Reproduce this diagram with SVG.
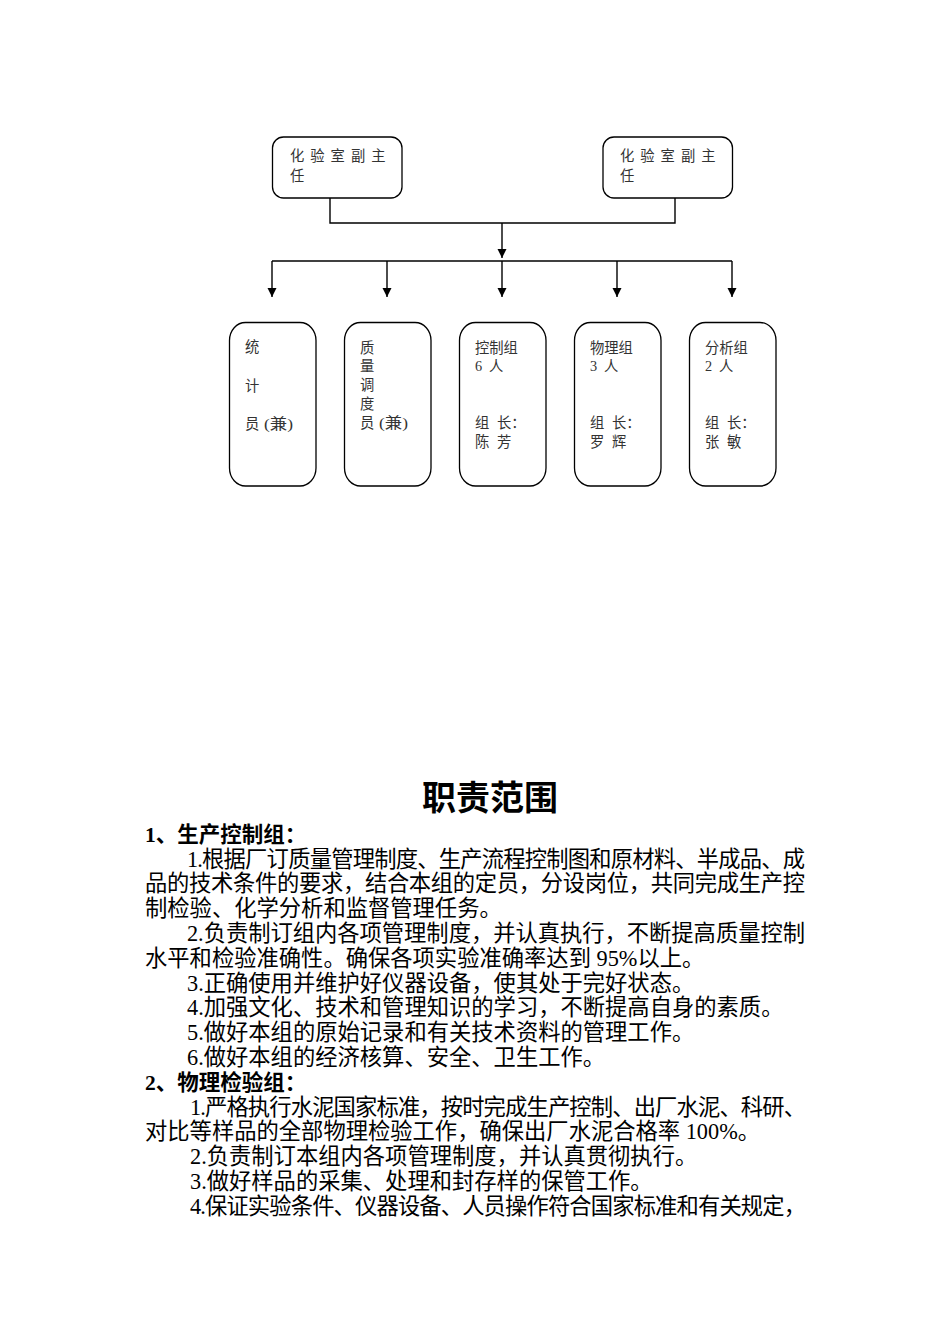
<svg xmlns="http://www.w3.org/2000/svg" width="950" height="1344" viewBox="0 0 950 1344">
<style>
.box{fill:#fff;stroke:#000;stroke-width:1.3}
.ln{fill:none;stroke:#000;stroke-width:1.4}
.ct{font-family:"Liberation Serif","Noto Sans CJK SC",serif;font-size:14.3px;fill:#333}
.tt{font-family:"Liberation Sans","Noto Sans CJK SC",sans-serif;font-size:14.3px;fill:#333;letter-spacing:6px}
.bd{font-family:"Liberation Serif","Noto Sans CJK SC",serif;font-size:22.3px;fill:#000}
.hd{font-family:"Liberation Serif","Noto Sans CJK SC",serif;font-size:21.5px;font-weight:bold;fill:#000}
.ti{font-family:"Noto Sans CJK SC",sans-serif;font-size:34px;font-weight:bold;fill:#000}
</style>
<defs>
<marker id="arr" markerUnits="userSpaceOnUse" markerWidth="10" markerHeight="10" viewBox="0 0 10 10" refX="10" refY="5" orient="auto">
<path d="M1 0.5 L10 5 L1 9.5 Z" fill="#000"/>
</marker>
</defs>
<rect width="950" height="1344" fill="#fff"/>

<g id="connectors">
<path class="ln" d="M330 198 V223 H675 V198"/>
<path class="ln" d="M502 223 V258" marker-end="url(#arr)"/>
<path class="ln" d="M272 261 H732"/>
<path class="ln" d="M272 261 V297" marker-end="url(#arr)"/>
<path class="ln" d="M387 261 V297" marker-end="url(#arr)"/>
<path class="ln" d="M502 261 V297" marker-end="url(#arr)"/>
<path class="ln" d="M617 261 V297" marker-end="url(#arr)"/>
<path class="ln" d="M732 261 V297" marker-end="url(#arr)"/>
</g>

<g id="vice1">
<rect class="box" x="272.5" y="137" width="129.5" height="61" rx="11" ry="11"/>
<text class="tt" x="290" y="161">化验室副主</text>
<text class="tt" x="290" y="181">任</text>
</g>
<g id="vice2">
<rect class="box" x="603" y="137" width="129.5" height="61" rx="11" ry="11"/>
<text class="tt" x="620" y="161">化验室副主</text>
<text class="tt" x="620" y="181">任</text>
</g>

<g id="stat">
<rect class="box" x="229.5" y="322.5" width="86.5" height="163.5" rx="16" ry="18"/>
<text class="ct" x="245" y="352">统</text>
<text class="ct" x="245" y="390.5">计</text>
<text class="ct" x="245" y="428.5">员<tspan x="264" textLength="29" lengthAdjust="spacingAndGlyphs">(兼)</tspan></text>
</g>
<g id="quality">
<rect class="box" x="344.5" y="322.5" width="86.5" height="163.5" rx="16" ry="18"/>
<text class="ct" x="360" y="352.5">质</text>
<text class="ct" x="360" y="371">量</text>
<text class="ct" x="360" y="390">调</text>
<text class="ct" x="360" y="409">度</text>
<text class="ct" x="360" y="428">员<tspan x="379" textLength="29" lengthAdjust="spacingAndGlyphs">(兼)</tspan></text>
</g>
<g id="control">
<rect class="box" x="459.5" y="322.5" width="86.5" height="163.5" rx="16" ry="18"/>
<text class="ct" x="475" y="352.5">控制组</text>
<text class="ct" x="475" y="371">6<tspan x="489">人</tspan></text>
<text class="ct" x="475" y="428">组<tspan x="497">长：</tspan></text>
<text class="ct" x="475" y="447">陈<tspan x="497">芳</tspan></text>
</g>
<g id="physics">
<rect class="box" x="574.5" y="322.5" width="86.5" height="163.5" rx="16" ry="18"/>
<text class="ct" x="590" y="352.5">物理组</text>
<text class="ct" x="590" y="371">3<tspan x="604">人</tspan></text>
<text class="ct" x="590" y="428">组<tspan x="612">长：</tspan></text>
<text class="ct" x="590" y="447">罗<tspan x="612">辉</tspan></text>
</g>
<g id="analysis">
<rect class="box" x="689.5" y="322.5" width="86.5" height="163.5" rx="16" ry="18"/>
<text class="ct" x="705" y="352.5">分析组</text>
<text class="ct" x="705" y="371">2<tspan x="719">人</tspan></text>
<text class="ct" x="705" y="428">组<tspan x="727">长：</tspan></text>
<text class="ct" x="705" y="447">张<tspan x="727">敏</tspan></text>
</g>

<g id="duties">
<text class="ti" x="490" y="810" text-anchor="middle">职责范围</text>
<text class="hd" x="145" y="841.7">1、生产控制组：</text>
<text class="bd" x="187" y="866.5" textLength="618" lengthAdjust="spacing">1.根据厂订质量管理制度、生产流程控制图和原材料、半成品、成</text>
<text class="bd" x="145" y="891.3" textLength="660" lengthAdjust="spacing">品的技术条件的要求，结合本组的定员，分设岗位，共同完成生产控</text>
<text class="bd" x="145" y="916.1">制检验、化学分析和监督管理任务。</text>
<text class="bd" x="187" y="940.9" textLength="618" lengthAdjust="spacing">2.负责制订组内各项管理制度，并认真执行，不断提高质量控制</text>
<text class="bd" x="145" y="965.7">水平和检验准确性。确保各项实验准确率达到 95%以上。</text>
<text class="bd" x="187" y="990.5">3.正确使用并维护好仪器设备，使其处于完好状态。</text>
<text class="bd" x="187" y="1015.3">4.加强文化、技术和管理知识的学习，不断提高自身的素质。</text>
<text class="bd" x="187" y="1040.1">5.做好本组的原始记录和有关技术资料的管理工作。</text>
<text class="bd" x="187" y="1064.9">6.做好本组的经济核算、安全、卫生工作。</text>
<text class="hd" x="145" y="1089.7">2、物理检验组：</text>
<text class="bd" x="190" y="1114.5" textLength="616" lengthAdjust="spacing">1.严格执行水泥国家标准，按时完成生产控制、出厂水泥、科研、</text>
<text class="bd" x="145" y="1139.3">对比等样品的全部物理检验工作，确保出厂水泥合格率 100%。</text>
<text class="bd" x="190" y="1164.1">2.负责制订本组内各项管理制度，并认真贯彻执行。</text>
<text class="bd" x="190" y="1188.9">3.做好样品的采集、处理和封存样的保管工作。</text>
<text class="bd" x="190" y="1213.7" textLength="616" lengthAdjust="spacing">4.保证实验条件、仪器设备、人员操作符合国家标准和有关规定，</text>
</g>
</svg>
